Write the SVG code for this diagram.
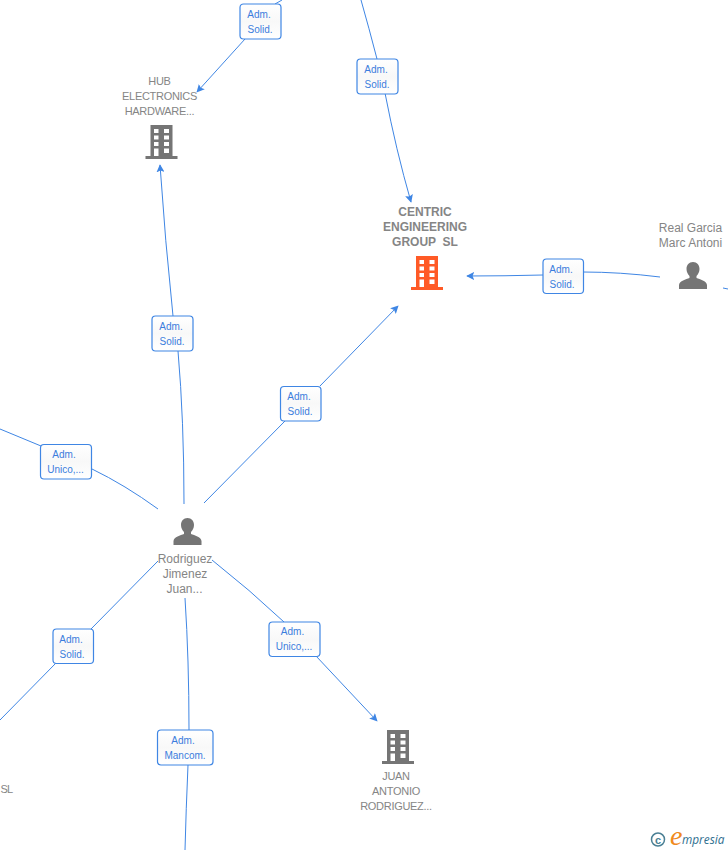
<svg xmlns="http://www.w3.org/2000/svg" width="728" height="850" viewBox="0 0 728 850">
<style>
.c{fill:none;stroke:#3f86e4;stroke-width:1}
.a{marker-end:url(#arrow)}
.b{fill:url(#boxfill);stroke:#3f86e4;stroke-width:1.2}
.l{font:10px "Liberation Sans",Arial,sans-serif;fill:#3b7ddd;text-anchor:middle}
.n{font:12px "Liberation Sans",Arial,sans-serif;fill:#858585;text-anchor:middle}
.u{font-size:11px;letter-spacing:-0.3px}
.h{font-weight:bold}
.grey{fill:#757575}
.org{fill:#ff5a26}
</style>
<defs>
<linearGradient id="boxfill" x1="0" y1="0" x2="0" y2="1"><stop offset="0" stop-color="#fff"/><stop offset="0.5" stop-color="#f8f8f8"/><stop offset="1" stop-color="#fff"/></linearGradient>
<marker id="arrow" viewBox="0 0 10 10" refX="9" refY="5" markerWidth="8" markerHeight="8" markerUnits="userSpaceOnUse" orient="auto"><path d="M0 0L10 5L0 10L2 5Z" fill="#3f86e4"/></marker>
<path id="bld" fill-rule="evenodd" d="M-11 -34H11V-3H16V0H-16V-3H-11ZM-7.500 -30V-26H-3V-30ZM2.500 -30V-26H7.500V-30ZM-7.500 -23.500V-19.500H-3V-23.500ZM2.500 -23.500V-19.500H7.500V-23.500ZM-7.500 -17V-13H-3V-17ZM2.500 -17V-13H7.500V-17ZM-7.500 -10.500V-3H-3V-10.500ZM2.500 -10.500V-6H7.500V-10.500Z"/>
<path id="psn" d="M0 -27C4 -27 6.500 -24 6.500 -20C6.500 -17 5 -14.500 3.500 -13V-11C7 -9.500 13.500 -8.500 14 -4V0H-14V-4C-13.500 -8.500 -7 -9.500 -3.500 -11V-13C-5 -14.500 -6.500 -17 -6.500 -20C-6.500 -24 -4 -27 0 -27Z"/>
</defs>
<g id="connectors">
<path class="c" d="M282 0L275 4"/>
<path class="c a" d="M245 39L197 92"/>
<path class="c" d="M361 0Q369 28 377 59"/>
<path class="c a" d="M385 93Q396 150 411 202"/>
<path class="c" d="M660 277Q620 272 583 272"/>
<path class="c a" d="M543 275Q505 276 467 276"/>
<path class="c" d="M723 288L728 289"/>
<path class="c" d="M184 504Q184 420 178 351"/>
<path class="c a" d="M173 316Q165 240 160 165"/>
<path class="c" d="M204 503L285 421"/>
<path class="c a" d="M320 386L398 306"/>
<path class="c" d="M158 509Q125 485 92 469"/>
<path class="c" d="M41 446L0 429"/>
<path class="c" d="M158 561L91 629"/>
<path class="c" d="M56 663L0 720"/>
<path class="c" d="M212 560Q250 590 284 622"/>
<path class="c a" d="M316 656L377 721"/>
<path class="c" d="M185 598Q189 660 189 730"/>
<path class="c" d="M188 765Q186 810 185 850"/>
</g>
<g id="lb1"><rect class="b" x="240" y="4" width="41" height="35" rx="3.500"/><text class="l" x="259" y="18">Adm.</text><text class="l" x="260" y="33">Solid.</text></g>
<g id="lb2"><rect class="b" x="357" y="59" width="41" height="35" rx="3.500"/><text class="l" x="376" y="73">Adm.</text><text class="l" x="377" y="88">Solid.</text></g>
<g id="lb3"><rect class="b" x="543" y="259" width="40.500" height="34.500" rx="3.500"/><text class="l" x="561" y="273">Adm.</text><text class="l" x="562" y="288">Solid.</text></g>
<g id="lb4"><rect class="b" x="152" y="316" width="41" height="35" rx="3.500"/><text class="l" x="171" y="330">Adm.</text><text class="l" x="172" y="345">Solid.</text></g>
<g id="lb5"><rect class="b" x="280.500" y="386.500" width="40.500" height="34.500" rx="3.500"/><text class="l" x="299" y="400">Adm.</text><text class="l" x="300" y="415">Solid.</text></g>
<g id="lb6"><rect class="b" x="40.500" y="444.500" width="51" height="34.500" rx="3.500"/><text class="l" x="64" y="458">Adm.</text><text class="l" x="65.500" y="473">Unico,...</text></g>
<g id="lb7"><rect class="b" x="53" y="629" width="40.500" height="34.500" rx="3.500"/><text class="l" x="71" y="643">Adm.</text><text class="l" x="72" y="658">Solid.</text></g>
<g id="lb8"><rect class="b" x="157.500" y="730" width="55.500" height="35" rx="3.500"/><text class="l" x="183" y="744">Adm.</text><text class="l" x="185" y="759">Mancom.</text></g>
<g id="lb9"><rect class="b" x="269" y="622" width="51" height="34.500" rx="3.500"/><text class="l" x="292.500" y="635">Adm.</text><text class="l" x="294" y="650">Unico,...</text></g>
<g id="hub"><text class="n u" x="159.500" y="85">HUB</text><text class="n u" x="159.500" y="100">ELECTRONICS</text><text class="n u" x="159.500" y="115">HARDWARE...</text><use href="#bld" class="grey" x="161.500" y="159"/></g>
<g id="centric"><text class="n h" x="425" y="216">CENTRIC</text><text class="n h" x="425" y="231">ENGINEERING</text><text class="n h" x="425" y="246" xml:space="preserve">GROUP  SL</text><use href="#bld" class="org" x="427" y="290"/></g>
<g id="real"><text class="n" x="690.500" y="232">Real Garcia</text><text class="n" x="690.500" y="247">Marc Antoni</text><use href="#psn" class="grey" x="693" y="289"/></g>
<g id="rodriguez"><use href="#psn" class="grey" x="187.500" y="545"/><text class="n" x="185" y="563">Rodriguez</text><text class="n" x="185" y="578">Jimenez</text><text class="n" x="184.500" y="593">Juan...</text></g>
<g id="juan"><use href="#bld" class="grey" x="398" y="764"/><text class="n u" x="396" y="780">JUAN</text><text class="n u" x="396" y="795">ANTONIO</text><text class="n u" x="396" y="810">RODRIGUEZ...</text></g>
<g id="sl"><text class="n u" x="0.500" y="793" style="text-anchor:start;letter-spacing:-0.8px">SL</text></g>
<g id="logo"><circle cx="658" cy="839.500" r="6.500" fill="none" stroke="#4a7f94" stroke-width="1.500"/><text x="658" y="843.500" font-family="Liberation Sans,sans-serif" font-size="11" font-weight="bold" fill="#4a7f94" text-anchor="middle">c</text><text x="670" y="845" font-family="Liberation Serif,serif" font-size="28" font-style="italic" fill="#f08a1d">e</text><text x="682" y="844" font-family="Open Sans,sans-serif" font-size="11.800" font-style="italic" fill="#2f6f8f">mpresia</text></g>
</svg>
